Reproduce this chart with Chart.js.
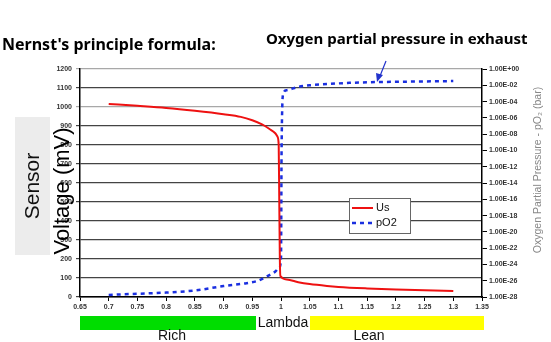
<!DOCTYPE html>
<html>
<head>
<meta charset="utf-8">
<script src="https://cdn.jsdelivr.net/npm/chart.js@4/dist/chart.umd.min.js"></script>
<style>
  html, body { margin: 0; padding: 0; background: #fff; }
  #wrap { width: 551px; height: 342px; position: relative; }
</style>
</head>
<body>
<div id="wrap"><canvas id="nernst" width="551" height="342"></canvas></div>
<script>
// Sensor voltage (left axis, mV) vs lambda
const lambdaUs = [0.7, 0.75, 0.8, 0.85, 0.9, 0.93, 0.95, 0.967, 0.98, 0.99, 0.994, 0.996, 0.997, 0.998, 0.999, 1.01, 1.03, 1.05, 1.08, 1.1, 1.15, 1.2, 1.25, 1.3];
const usValues = [1016, 1006, 995, 980, 962, 948, 930, 908, 884, 862, 843, 800, 500, 200, 110, 92, 78, 68, 58, 53, 45, 39, 35, 32];

// Oxygen partial pressure (right axis, bar) vs lambda
const lambdaO2 = [0.7, 0.75, 0.8, 0.85, 0.9, 0.94, 0.96, 0.975, 0.99, 0.997, 1.0, 1.001, 1.004, 1.01, 1.03, 1.05, 1.08, 1.12, 1.17, 1.22, 1.3];
const pO2Values = [1.8e-28, 2.5e-28, 3.5e-28, 6.3e-28, 2.2e-27, 5e-27, 1e-26, 3.2e-26, 1.3e-25, 4e-25, 6.3e-24, 1e-10, 1e-3, 2.5e-3, 6.3e-3, 1e-2, 1.4e-2, 2e-2, 2.5e-2, 2.8e-2, 3.3e-2];

// Tick labels
const voltTicks = [0, 100, 200, 300, 400, 500, 600, 700, 800, 900, 1000, 1100, 1200];
const pressureExps = [0, -2, -4, -6, -8, -10, -12, -14, -16, -18, -20, -22, -24, -26, -28];
const lambdaTicks = [0.65, 0.7, 0.75, 0.8, 0.85, 0.9, 0.95, 1, 1.05, 1.1, 1.15, 1.2, 1.25, 1.3, 1.35];

const tickFont = { family: 'Liberation Sans', size: 7, weight: 'bold' };

// extra decorations: titles, axis labels, rich/lean bars, legend box
const decor = {
    id: 'decor',
    afterDraw(chart) {
        const c = chart.ctx;
        c.save();

        // top titles
        c.fillStyle = '#000';
        c.font = 'bold 16px "Noto Sans"';
        c.textBaseline = 'middle';
        c.textAlign = 'left';
        c.fillText("Nernst's principle formula:", 2, 45);
        c.font = 'bold 15px "Noto Sans"';
        c.fillText('Oxygen partial pressure in exhaust', 266, 40);

        // arrow
        c.strokeStyle = '#2233cc';
        c.fillStyle = '#2233cc';
        c.lineWidth = 1.2;
        c.beginPath();
        c.moveTo(386, 61);
        c.lineTo(380, 76);
        c.stroke();
        c.beginPath();
        c.moveTo(377, 82);
        c.lineTo(376, 73);
        c.lineTo(383, 75);
        c.closePath();
        c.fill();

        // left axis title
        c.fillStyle = '#ececec';
        c.fillRect(15, 117, 35, 138);
        c.save();
        c.translate(33, 186);
        c.rotate(-Math.PI / 2);
        c.fillStyle = '#111';
        c.textAlign = 'center';
        c.font = '21px "Liberation Sans"';
        c.fillText('Sensor', 0, 0);
        c.restore();
        c.save();
        c.translate(63, 191);
        c.rotate(-Math.PI / 2);
        c.fillStyle = '#000';
        c.textAlign = 'center';
        c.font = '22px "Liberation Sans"';
        c.fillText('Voltage (mV)', 0, 0);
        c.restore();

        // right axis title
        c.save();
        c.translate(538, 170);
        c.rotate(-Math.PI / 2);
        c.fillStyle = '#888';
        c.textAlign = 'center';
        c.font = '10.5px "Liberation Sans"';
        c.fillText('Oxygen Partial Pressure - pO\u2082 (bar)', 0, 0);
        c.restore();

        // rich / lean bars
        c.fillStyle = '#00dd00';
        c.fillRect(80, 316, 176, 14);
        c.fillStyle = '#ffff00';
        c.fillRect(310, 316, 174, 14);
        c.fillStyle = '#111';
        c.textAlign = 'center';
        c.font = '14px "Liberation Sans"';
        c.fillText('Lambda', 283, 323);
        c.fillText('Rich', 172, 336);
        c.fillText('Lean', 369, 336);

        // legend
        const lx = 349, ly = 198;
        c.fillStyle = '#fff';
        c.fillRect(lx, ly, 61, 35);
        c.strokeStyle = '#666';
        c.lineWidth = 1;
        c.strokeRect(lx + 0.5, ly + 0.5, 61, 35);
        chart.data.datasets.forEach(function (ds, i) {
            const y = ly + 10 + i * 15;
            c.strokeStyle = ds.borderColor;
            c.lineWidth = ds.borderWidth;
            c.setLineDash(ds.borderDash || []);
            c.beginPath();
            c.moveTo(lx + 3, y);
            c.lineTo(lx + 24, y);
            c.stroke();
            c.setLineDash([]);
            c.fillStyle = '#111';
            c.textAlign = 'left';
            c.font = '11px "Liberation Sans"';
            c.fillText(ds.label, lx + 27, y);
        });

        c.restore();
    }
};

new Chart(document.getElementById('nernst'), {
    type: 'line',
    data: {
        datasets: [{
            label: 'Us',
            data: lambdaUs.map((x, i) => ({ x: x, y: usValues[i] })),
            yAxisID: 'y',
            borderColor: '#ee1111',
            borderWidth: 2,
            pointRadius: 0,
            cubicInterpolationMode: 'monotone'
        }, {
            label: 'pO2',
            data: lambdaO2.map((x, i) => ({ x: x, y: pO2Values[i] })),
            yAxisID: 'y2',
            borderColor: '#1a2fe0',
            borderWidth: 2.5,
            borderDash: [4, 4],
            pointRadius: 0,
            cubicInterpolationMode: 'monotone'
        }]
    },
    options: {
        responsive: false,
        animation: false,
        layout: { padding: { top: 69, left: 0, right: 0, bottom: 0 } },
        plugins: {
            legend: { display: false },
            tooltip: { enabled: false }
        },
        scales: {
            x: {
                type: 'linear',
                min: 0.65,
                max: 1.35,
                afterBuildTicks: s => { s.ticks = lambdaTicks.map(v => ({ value: v })); },
                afterFit: s => { s.height = 45; },
                border: { color: '#000', width: 1.5 },
                grid: { drawOnChartArea: false, color: '#000', tickLength: 4 },
                ticks: { color: '#333', font: tickFont, padding: 2, maxRotation: 0, callback: v => String(+v.toFixed(2)) }
            },
            y: {
                position: 'left',
                min: 0,
                max: 1200,
                afterBuildTicks: s => { s.ticks = voltTicks.map(v => ({ value: v })); },
                afterFit: s => { s.width = 80; },
                border: { color: '#000', width: 1.5 },
                grid: {
                    color: ctx => (ctx.tick && (ctx.tick.value === 1000 || ctx.tick.value === 1200)) ? '#a8a8a8' : '#444',
                    lineWidth: 1.2,
                    tickLength: 4
                },
                ticks: { color: '#333', font: tickFont, padding: 4, callback: v => String(v) }
            },
            y2: {
                type: 'logarithmic',
                position: 'right',
                min: 1e-28,
                max: 1,
                afterBuildTicks: s => { s.ticks = pressureExps.map(e => ({ value: Math.pow(10, e) })); },
                afterFit: s => { s.width = 69; },
                border: { color: '#000', width: 1.5 },
                grid: { drawOnChartArea: false, color: '#000', tickLength: 5 },
                ticks: {
                    color: '#333',
                    font: tickFont,
                    padding: 2,
                    callback: function (v) {
                        const e = Math.round(Math.log10(v));
                        return '1.00E' + (e < 0 ? '-' : '+') + String(Math.abs(e)).padStart(2, '0');
                    }
                }
            }
        }
    },
    plugins: [decor]
});
</script>
</body>
</html>
